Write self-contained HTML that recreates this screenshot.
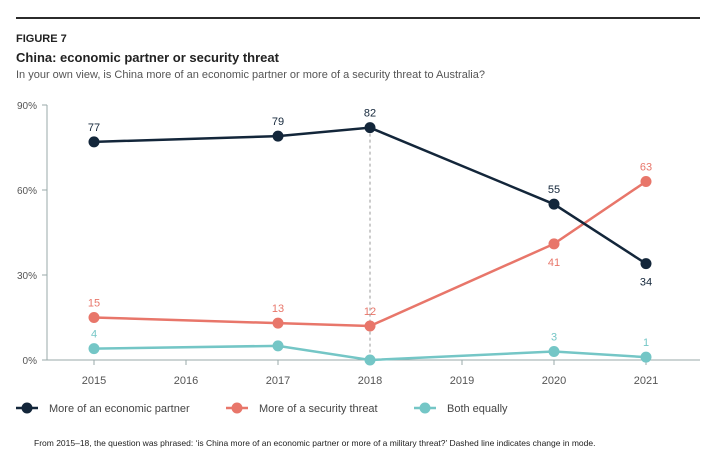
<!DOCTYPE html>
<html><head><meta charset="utf-8"><style>
body{margin:0;background:#fff;font-family:"Liberation Sans",sans-serif;}
svg text{font-family:"Liberation Sans",sans-serif;}
</style></head><body>
<svg width="724" height="471">
<line x1="16" y1="18" x2="700" y2="18" stroke="#2b2b2b" stroke-width="2"/>
<text x="16" y="42" font-size="11" font-weight="bold" fill="#222">FIGURE 7</text>
<text x="16" y="62" font-size="13" font-weight="bold" fill="#222">China: economic partner or security threat</text>
<text x="16" y="78" font-size="11" fill="#555">In your own view, is China more of an economic partner or more of a security threat to Australia?</text>
<g id="axes"></g><g id="plot"></g>
<text x="34" y="446" font-size="8.5" fill="#222">From 2015–18, the question was phrased: ‘is China more of an economic partner or more of a military threat?’ Dashed line indicates change in mode.</text>
</svg>
<script>
const years=[2015,2016,2017,2018,2019,2020,2021];
const dataYears=[2015,2017,2018,2020,2021];
const econ=[77,79,82,55,34];
const threat=[15,13,12,41,63];
const both=[4,5,0,3,1];
const yTicks=[0,30,60,90];
const econLabelPos=['a','a','a','a','b'];
const threatLabelPos=['a','a','a','b','a'];
const bothShow=[true,false,false,true,true];
const NS='http://www.w3.org/2000/svg';
const x=y=>94+(y-2015)*92;
const yv=v=>360-v*(255/90);
function mk(t,a,p){const e=document.createElementNS(NS,t);for(const k in a)e.setAttribute(k,a[k]);p.appendChild(e);return e;}
const ax=document.getElementById('axes'),pl=document.getElementById('plot');
mk('line',{x1:47,y1:yv(0),x2:700,y2:yv(0),stroke:'#9aa',"stroke-width":1},ax);
mk('line',{x1:47,y1:yv(90),x2:47,y2:yv(0),stroke:'#9aa',"stroke-width":1},ax);
yTicks.forEach(t=>{const l=mk('line',{x1:42,y1:yv(t),x2:47,y2:yv(t),stroke:'#9aa'},ax);
const tx=mk('text',{x:37,y:yv(t)+4,"font-size":10,fill:'#555',"text-anchor":'end'},ax);tx.textContent=t+'%';

});
years.forEach(yr=>{const l=mk('line',{x1:x(yr),y1:yv(0),x2:x(yr),y2:yv(0)+5,stroke:'#9aa'},ax);
const tx=mk('text',{x:x(yr),y:384,"font-size":11,fill:'#555',"text-anchor":'middle'},ax);tx.textContent=yr;

});
const dl=mk('line',{x1:x(2018),y1:yv(econ[2]),x2:x(2018),y2:yv(0),stroke:'#999',"stroke-dasharray":'3,3'},ax);


function series(vals,col,name,pos,show){
const g=mk('g',{},pl);
const p=mk('polyline',{points:vals.map((v,i)=>x(dataYears[i])+','+yv(v)).join(' '),fill:'none',stroke:col,"stroke-width":2.5},g);

vals.forEach((v,i)=>{const c=mk('circle',{cx:x(dataYears[i]),cy:yv(v),r:5.5,fill:col},g);

if(show&&!show[i])return;
const below=pos&&pos[i]==='b';
const t=mk('text',{x:x(dataYears[i]),y:below?yv(v)+22:yv(v)-11,"font-size":11,fill:col,"text-anchor":'middle'},g);t.textContent=v;
});}
series(both,'#74c6c6','both-equally',null,bothShow);
series(threat,'#e8766a','security-threat',threatLabelPos);
series(econ,'#13263a','economic-partner',econLabelPos);
[['#13263a','More of an economic partner',16],['#e8766a','More of a security threat',226],['#74c6c6','Both equally',414]].forEach(([c,l,x0])=>{
const g=mk('g',{},pl);
mk('line',{x1:x0,y1:408,x2:x0+22,y2:408,stroke:c,"stroke-width":2.5},g);
mk('circle',{cx:x0+11,cy:408,r:5.5,fill:c},g);
const t=mk('text',{x:x0+33,y:412,"font-size":11,fill:'#444'},g);t.textContent=l;});
</script>
</body></html>
